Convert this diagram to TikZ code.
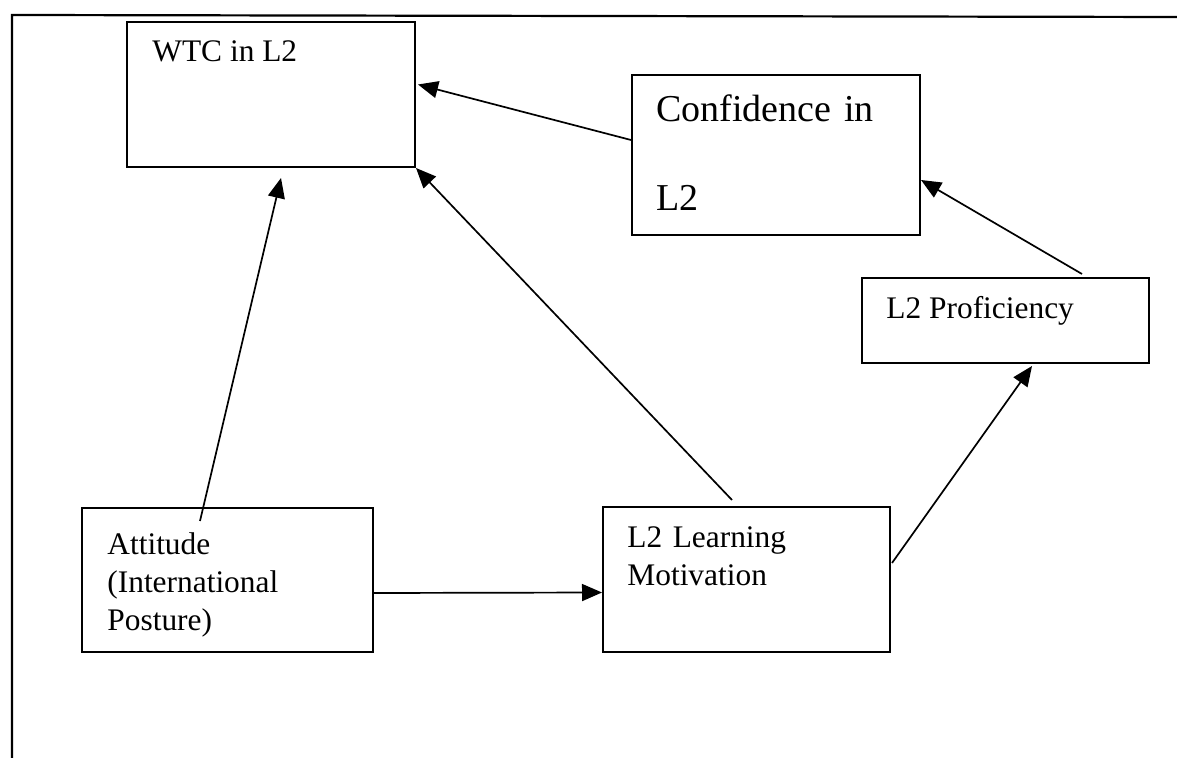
\documentclass[tikz,border=0pt]{standalone}
\usepackage{fontspec}
\setmainfont{Liberation Serif}
\usetikzlibrary{arrows.meta,calc}
\tikzset{
  box/.style={draw,line width=1pt,inner sep=0pt},
  txt/.style={inner sep=0pt,anchor=base west,align=left,font=\fontsize{15.7}{19}\selectfont},
  arr/.style={-{Triangle[length=10pt,width=8.5pt]},line width=0.85pt},
}
\begin{document}
\begin{tikzpicture}[x=0.5pt,y=-0.5pt]
	\useasboundingbox (0,0) rectangle (1177,758);
	\draw[line width=1.1pt] (12,758) -- (12,15) -- (1177,17);
	% boxes
	\node[box,minimum width=144pt,minimum height=72.5pt] (wtc) at (271,94.5) {};
	\node[box,minimum width=144pt,minimum height=80pt] (conf) at (776,155) {};
	\node[box,minimum width=143.5pt,minimum height=42.5pt] (prof) at (1005.5,320.5) {};
	\node[box,minimum width=145.5pt,minimum height=72pt] (att) at (227.5,580) {};
	\node[box,minimum width=143.5pt,minimum height=72.5pt] (mot) at (746.5,579.5) {};
	% texts
	\node[txt] (wtctxt) at ($(wtc.north west)+(26,41)$) {WTC in L2};
	\node[txt,font=\fontsize{19}{44.5}\selectfont,text width=130pt] (conftxt) at ($(conf.north west)+(25,48)$) {Confidence in\\L2};
	\node[txt] (proftxt) at ($(prof.north west)+(25,42)$) {L2 Proficiency};
	\node[txt,text width=130pt] (atttxt) at ($(att.north west)+(26,47)$) {Attitude\\(International\\Posture)};
	\node[txt,text width=130pt] (mottxt) at ($(mot.north west)+(25,41)$) {L2 Learning\\Motivation};
	% arrows
	\draw[arr] ($(att.east)+(0,13)$) -- ($(mot.west)+(0,13)$);
	\draw[arr] ($(att.north west)+(119,14)$) -- ($(wtc.south west)+(155,10)$);
	\draw[arr] ($(mot.north west)+(130,-6)$) -- (wtc.south east);
	\draw[arr] ($(conf.west)+(0,-15)$) -- ($(wtc.east)+(2,-10)$);
	\draw[arr] ($(prof.north west)+(221,-3)$) -- ($(conf.east)+(0,25)$);
	\draw[arr] ($(mot.east)+(1,-16.5)$) -- ($(prof.south west)+(171,2)$);
\end{tikzpicture}
\end{document}
